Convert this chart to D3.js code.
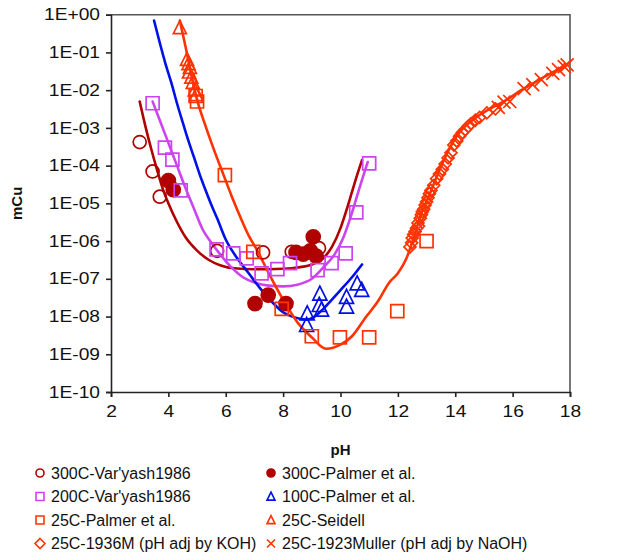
<!DOCTYPE html>
<html lang="en">
<head>
  <meta charset="UTF-8" />
  <title>Cu solubility vs pH</title>
  <style>
    html, body { margin: 0; padding: 0; background: #fff; }
    svg { display: block; font-family: Arial, "Liberation Sans", sans-serif; }
    .tick-label { font-size: 16px; fill: #111; }
    .axis-title { font-size: 15px; font-weight: bold; fill: #111; }
    .legend text { font-size: 16px; fill: #111; }
  </style>
</head>
<body>
  <svg width="619" height="560"></svg>
  <script src="https://d3js.org/d3.v7.min.js"></script>
  <script>
    // ---- tick labels ----
    const xTicks = [2, 4, 6, 8, 10, 12, 14, 16, 18];
    const yTicks = [1e-10, 1e-9, 1e-8, 1e-7, 1e-6, 1e-5, 1e-4, 1e-3, 1e-2, 1e-1, 1];
    const yTickLabels = ["1E-10", "1E-09", "1E-08", "1E-07", "1E-06", "1E-05",
                         "1E-04", "1E-03", "1E-02", "1E-01", "1E+00"];

    // ---- measured points [pH, mCu] ----
    const var300 = [[3.0, 4.2e-4], [3.45, 7e-5], [3.7, 1.5e-5], [5.7, 5.5e-7],
                    [7.3, 5e-7], [8.3, 5.2e-7], [9.25, 6.5e-7]];
    const palmer300 = [[4.0, 4e-5], [4.17, 2.3e-5], [7.02, 2.2e-8], [7.48, 3.7e-8],
                       [8.1, 2.2e-8], [8.45, 5e-7], [8.7, 4.5e-7], [8.95, 5.5e-7],
                       [9.05, 1.3e-6], [9.15, 4e-7]];
    const var200 = [[3.45, 4.5e-3], [3.88, 3e-4], [4.14, 1.45e-4], [4.43, 2.2e-5],
                    [5.68, 6e-7], [6.26, 4.7e-7], [6.73, 3.5e-7], [7.25, 1.4e-7],
                    [7.8, 1.8e-7], [8.24, 2.6e-7], [9.2, 1.7e-7], [9.69, 2.6e-7],
                    [10.18, 4.7e-7], [10.55, 5.8e-6], [11.0, 1.15e-4]];
    const palmer100 = [[8.84, 1.2e-8], [8.82, 5.9e-9], [9.28, 4e-8], [9.26, 2e-8],
                       [9.34, 1.5e-8], [10.21, 3.3e-8], [10.21, 1.8e-8],
                       [10.58, 7.5e-8], [10.74, 5e-8]];
    const palmer25 = [[4.95, 7e-3], [5.0, 5e-3], [5.97, 5.6e-5], [6.96, 5.2e-7],
                      [7.95, 1.6e-8], [9.0, 3e-9], [9.98, 2.8e-9], [11.0, 2.8e-9],
                      [11.98, 1.4e-8], [13.0, 1e-6]];
    const seidell = [[4.4, 0.45], [4.65, 0.065], [4.7, 0.05], [4.75, 0.04],
                     [4.72, 0.03], [4.8, 0.022], [4.85, 0.016], [4.92, 0.01],
                     [4.97, 0.0075]];
    const m1936 = [[12.42, 7e-7], [12.48, 9e-7], [12.5, 1.2e-6], [12.55, 1.5e-6],
                   [12.6, 1.8e-6], [12.65, 2.2e-6], [12.7, 3e-6], [12.72, 2.5e-6],
                   [12.78, 4e-6], [12.82, 5e-6], [12.85, 6e-6], [12.9, 7e-6],
                   [12.95, 9e-6], [13.0, 1.1e-5], [13.05, 1.4e-5], [13.1, 1.8e-5],
                   [13.15, 2.2e-5], [13.25, 3e-5], [13.35, 4.5e-5], [13.45, 6e-5],
                   [13.55, 8e-5], [13.65, 1.1e-4], [13.75, 1.6e-4], [13.85, 2.2e-4],
                   [13.95, 3.5e-4], [14.05, 4.5e-4], [14.15, 6e-4], [14.25, 7.5e-4],
                   [14.35, 9e-4], [14.45, 1.1e-3], [14.55, 1.3e-3], [14.7, 1.6e-3],
                   [14.85, 1.9e-3], [15.1, 2.5e-3], [15.4, 3.2e-3]];
    const muller = [[15.5, 3.5e-3], [15.7, 4.8e-3], [15.9, 5e-3], [16.4, 0.011],
                    [16.7, 0.014], [17.0, 0.019], [17.4, 0.028], [17.6, 0.035],
                    [17.8, 0.042], [17.9, 0.047]];

    // ---- model curves [pH, mCu] ----
    const fit300 = [[3.0, 5e-3], [3.2, 1.1e-3], [3.4, 2.8e-4], [3.6, 8e-5], [3.8, 2.5e-5],
                    [4.0, 1e-5], [4.3, 3.2e-6], [4.6, 1.26e-6], [5.0, 5.6e-7], [5.4, 3.2e-7],
                    [5.8, 2.3e-7], [6.3, 1.9e-7], [7.0, 1.8e-7], [7.5, 1.8e-7], [8.0, 1.85e-7],
                    [8.5, 2e-7], [9.0, 2.4e-7], [9.4, 3.5e-7], [9.7, 7e-7], [10.0, 2.2e-6],
                    [10.2, 6.3e-6], [10.4, 2e-5], [10.6, 6.3e-5], [10.75, 1.4e-4]];
    const fit200 = [[3.45, 5e-3], [3.7, 1.6e-3], [4.0, 4e-4], [4.3, 1e-4], [4.6, 2.5e-5],
                    [4.9, 7e-6], [5.2, 2e-6], [5.5, 9e-7], [5.8, 4.5e-7], [6.2, 2e-7],
                    [6.6, 1.1e-7], [7.0, 8e-8], [7.5, 6.6e-8], [8.0, 6.3e-8], [8.5, 7e-8],
                    [9.0, 1e-7], [9.4, 2e-7], [9.8, 4.5e-7], [10.1, 1.25e-6], [10.4, 5.6e-6],
                    [10.7, 3.2e-5], [10.95, 1.25e-4]];
    const fit100 = [[3.5, 0.7], [3.7, 0.18], [3.9, 0.05], [4.1, 0.016], [4.3, 4.5e-3],
                    [4.5, 1.4e-3], [4.7, 4.5e-4], [4.9, 1.6e-4], [5.1, 5.6e-5], [5.3, 2.2e-5],
                    [5.5, 9e-6], [5.7, 4e-6], [6.0, 1.1e-6], [6.4, 3.5e-7], [6.8, 1.4e-7],
                    [7.2, 5.6e-8], [7.6, 2.5e-8], [8.0, 1.3e-8], [8.4, 9.5e-9], [8.8, 8.3e-9],
                    [9.1, 1e-8], [9.4, 1.6e-8], [9.7, 2.8e-8], [10.0, 5e-8], [10.4, 1.1e-7],
                    [10.75, 2.4e-7]];
    const fit25 = [[4.4, 0.7], [4.6, 0.14], [4.8, 0.025], [5.0, 5.6e-3], [5.3, 1.1e-3],
                   [5.6, 2.5e-4], [5.9, 6.3e-5], [6.2, 1.6e-5], [6.5, 4.5e-6], [6.8, 1.4e-6],
                   [7.1, 5.6e-7], [7.5, 1.4e-7], [8.0, 2.8e-8], [8.5, 7e-9], [9.0, 2.8e-9],
                   [9.5, 1.4e-9], [10.0, 1.8e-9], [10.4, 3e-9], [10.9, 1e-8], [11.3, 2.5e-8],
                   [11.7, 8e-8], [12.0, 1.4e-7], [12.3, 3.5e-7], [12.6, 1.6e-6], [12.8, 5e-6],
                   [13.0, 1.1e-5], [13.35, 5e-5], [13.7, 2e-4], [14.05, 6e-4], [14.4, 1.2e-3],
                   [14.85, 2.2e-3], [15.3, 3.5e-3], [15.8, 5.6e-3], [16.3, 0.01], [16.8, 0.0166],
                   [17.4, 0.03], [17.9, 0.047]];

    const darkRed = "#b00000", violet = "#cc44f0", blue = "#0010e8", orange = "#ff3300";

    const svg = d3.select("svg");
    const x = d3.scaleLinear().domain([2, 18]).range([111, 570]);
    const y = d3.scaleLog().domain([1e-10, 1]).range([392, 14.7]);

    // marker shapes, sized in px
    const shapes = {
      circle: s => d3.symbol(d3.symbolCircle, Math.PI * (s / 2) ** 2)(),
      square: s => `M${-s/2},${-s/2}h${s}v${s}h${-s}Z`,
      triangle: s => `M0,${-s*0.55}L${s/2},${s*0.45}L${-s/2},${s*0.45}Z`,
      diamond: s => `M0,${-s/2}L${s/2},0L0,${s/2}L${-s/2},0Z`,
      cross: s => `M${-s/2},${-s/2}L${s/2},${s/2}M${s/2},${-s/2}L${-s/2},${s/2}`
    };

    // frame: top and right border
    svg.append("path")
      .attr("d", `M${x(2)},${y(1)}H${x(18)}V${y(1e-10)}`)
      .attr("fill", "none").attr("stroke", "#555").attr("stroke-width", 1.6);

    // axes
    const stretch = 1.2; // labels in the source are drawn wide
    const xAxis = d3.axisBottom(x).tickValues(xTicks).tickSize(5).tickFormat(d3.format("d"));
    const yAxis = d3.axisLeft(y).tickValues(yTicks).tickSize(5)
      .tickFormat((d, i) => yTickLabels[i]);

    const gx = svg.append("g").attr("transform", `translate(0,${y(1e-10)})`).call(xAxis);
    const gy = svg.append("g").attr("transform", `translate(${x(2)},0)`).call(yAxis);
    [gx, gy].forEach(g => {
      g.select(".domain").attr("stroke", "#222").attr("stroke-width", 1.6);
      g.selectAll(".tick line").attr("stroke", "#222").attr("stroke-width", 1.6);
      g.selectAll(".tick text").attr("class", "tick-label").attr("font-size", null)
        .attr("font-family", null).attr("transform", `scale(${stretch},1)`);
    });
    gx.selectAll(".tick text").attr("dy", "0.95em").attr("y", 10);
    gy.selectAll(".tick text").attr("x", -11 / stretch);

    svg.append("text").attr("class", "axis-title")
      .attr("transform", `translate(22,${(y(1) + y(1e-10)) / 2}) rotate(-90)`)
      .attr("text-anchor", "middle").text("mCu");
    svg.append("text").attr("class", "axis-title")
      .attr("x", (x(2) + x(18)) / 2).attr("y", 455)
      .attr("text-anchor", "middle").text("pH");

    // model curves
    const line = d3.line().x(d => x(d[0])).y(d => y(d[1])).curve(d3.curveMonotoneX);
    [[fit300, darkRed], [fit200, violet], [fit100, blue], [fit25, orange]].forEach(([data, c]) => {
      svg.append("path").datum(data).attr("d", line)
        .attr("fill", "none").attr("stroke", c).attr("stroke-width", 2.6)
        .attr("stroke-linecap", "round");
    });

    // point series
    const series = [
      { name: "300C-Var'yash1986", data: var300, shape: "circle", color: darkRed, fill: false, size: 13 },
      { name: "300C-Palmer et al.", data: palmer300, shape: "circle", color: darkRed, fill: true, size: 14 },
      { name: "200C-Var'yash1986", data: var200, shape: "square", color: violet, fill: false, size: 13 },
      { name: "100C-Palmer et al.", data: palmer100, shape: "triangle", color: blue, fill: false, size: 14 },
      { name: "25C-Palmer et al.", data: palmer25, shape: "square", color: orange, fill: false, size: 13 },
      { name: "25C-Seidell", data: seidell, shape: "triangle", color: orange, fill: false, size: 13 },
      { name: "25C-1936M (pH adj by KOH)", data: m1936, shape: "diamond", color: orange, fill: false, size: 12 },
      { name: "25C-1923Muller (pH adj by NaOH)", data: muller, shape: "cross", color: orange, fill: false, size: 13 }
    ];

    series.forEach(s => {
      svg.append("g").selectAll("path").data(s.data).join("path")
        .attr("transform", d => `translate(${x(d[0])},${y(d[1])})`)
        .attr("d", shapes[s.shape](s.size))
        .attr("fill", s.fill ? s.color : "none")
        .attr("stroke", s.color).attr("stroke-width", 1.7);
    });

    // legend, two columns
    const legend = svg.append("g").attr("class", "legend");
    series.forEach((s, i) => {
      const col = i % 2, row = Math.floor(i / 2);
      const lx = col === 0 ? 40 : 271, ly = 473 + row * 23.5;
      legend.append("path")
        .attr("transform", `translate(${lx},${ly})`)
        .attr("d", shapes[s.shape](s.shape === "diamond" ? 10 : 8))
        .attr("fill", s.fill ? s.color : "none")
        .attr("stroke", s.color).attr("stroke-width", 1.6);
      legend.append("text").attr("x", lx + 11).attr("y", ly).attr("dy", "0.36em").text(s.name);
    });
  </script>
</body>
</html>
